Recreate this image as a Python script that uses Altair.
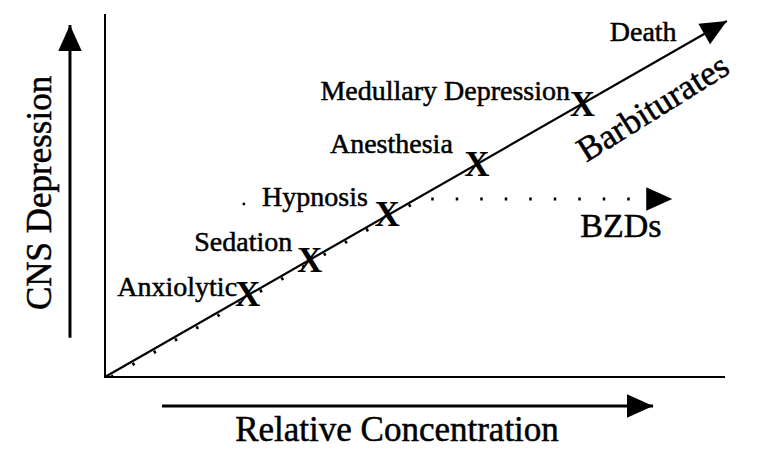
import altair as alt
import pandas as pd

# ---- data (relative concentration, CNS depression), arbitrary 0-100 units ----
stage_labels = ["Anxiolytic", "Sedation", "Hypnosis", "Anesthesia", "Medullary Depression"]
stage_conc = [23.0, 33.0, 45.5, 60.0, 77.0]
stage_depr = [23.0, 32.5, 45.5, 59.5, 76.5]
label_conc = [21.3, 30.2, 42.4, 56.1, 75.0]
label_depr = [25.0, 37.6, 50.3, 65.2, 80.1]

barb_conc = [0.0, 100.3]
barb_depr = [0.0, 100.0]
bzd_conc = [1.0, 51.0, 91.5]
bzd_depr = [0.0, 50.0, 50.0]

frame_conc = [0.0, 0.0, 100.0]
frame_depr = [102.0, 0.0, 0.0]

yarrow_conc = [-5.65, -5.65]
yarrow_depr = [11.0, 98.9]
xarrow_conc = [9.2, 88.4]
xarrow_depr = [-8.15, -8.15]

head_conc = [100.3, 91.5, -5.65, 88.4]
head_depr = [100.0, 50.0, 98.9, -8.15]
head_angle = [330.2, 0, 270, 0]

extra_text = ["Death", "BZDs", "Barbiturates"]
extra_conc = [86.8, 83.2, 88.4]
extra_depr = [96.6, 42.1, 75.5]

stray_conc = [22.4]
stray_depr = [48.6]

# ---- scales ----
XMIN, XMAX = -15.645, 105.323
YMIN, YMAX = -19.944, 103.652
XS = alt.Scale(domain=[XMIN, XMAX], nice=False, zero=False)
YS = alt.Scale(domain=[YMIN, YMAX], nice=False, zero=False)
FONT = "Liberation Serif"
TXT = dict(font=FONT, color="black", stroke="black", strokeWidth=0.5, baseline="middle")


def enc(**kw):
    return dict(
        x=alt.X("x:Q", scale=XS, axis=None),
        y=alt.Y("y:Q", scale=YS, axis=None),
        **kw,
    )


def path_df(xs, ys):
    return pd.DataFrame({"x": xs, "y": ys, "o": list(range(len(xs)))})


def text_layer(xs, ys, ts, **style):
    return alt.Chart(pd.DataFrame({"x": xs, "y": ys, "t": ts})).mark_text(
        **TXT, **style
    ).encode(**enc(text="t:N"))


frame = alt.Chart(path_df(frame_conc, frame_depr)).mark_line(
    color="black", strokeWidth=2
).encode(**enc(order="o:O"))

barb = alt.Chart(path_df(barb_conc, barb_depr)).mark_line(
    color="black", strokeWidth=2.2
).encode(**enc(order="o:O"))

bzd = alt.Chart(path_df(bzd_conc, bzd_depr)).mark_line(
    color="black", strokeWidth=3, strokeDash=[2.5, 22]
).encode(**enc(order="o:O"))

yarrow = alt.Chart(path_df(yarrow_conc, yarrow_depr)).mark_line(
    color="black", strokeWidth=3
).encode(**enc(order="o:O"))

xarrow = alt.Chart(path_df(xarrow_conc, xarrow_depr)).mark_line(
    color="black", strokeWidth=3
).encode(**enc(order="o:O"))

heads = alt.Chart(
    pd.DataFrame({"x": head_conc, "y": head_depr, "a": head_angle})
).mark_point(
    shape="M0,0L-2,-0.9L-2,0.9Z", filled=True, color="black", size=680, opacity=1
).encode(**enc(angle=alt.Angle("a:Q", scale=None)))

stray = alt.Chart(pd.DataFrame({"x": stray_conc, "y": stray_depr})).mark_point(
    shape="circle", filled=True, color="black", size=8, opacity=1
).encode(**enc())

marks_x = alt.Chart(
    pd.DataFrame({"x": stage_conc, "y": stage_depr, "t": ["X"] * len(stage_conc)})
).mark_text(
    font=FONT, fontSize=35, fontWeight="bold", color="black", align="center", baseline="middle"
).encode(**enc(text="t:N"))

labels = text_layer(label_conc, label_depr, stage_labels, fontSize=28, align="right")
death = text_layer(extra_conc[:1], extra_depr[:1], extra_text[:1], fontSize=28, align="center")
bzd_txt = text_layer(extra_conc[1:2], extra_depr[1:2], extra_text[1:2], fontSize=34, align="center")
barb_txt = text_layer(extra_conc[2:], extra_depr[2:], extra_text[2:], fontSize=35, align="center", angle=328)
ytitle = text_layer([-10.5], [51.7], ["CNS Depression"], fontSize=35, align="center", angle=270)
xtitle = text_layer([47.1], [-14.9], ["Relative Concentration"], fontSize=35, align="center")

chart = alt.layer(
    frame, barb, bzd, yarrow, xarrow, heads, stray,
    marks_x, labels, death, bzd_txt, barb_txt, ytitle, xtitle,
).properties(
    width=750, height=440, padding=0,
    autosize=alt.AutoSizeParams(type="none"),
    background="white",
).configure_view(stroke=None)

chart.save("out.html", embed_options={"renderer": "svg", "actions": False})
